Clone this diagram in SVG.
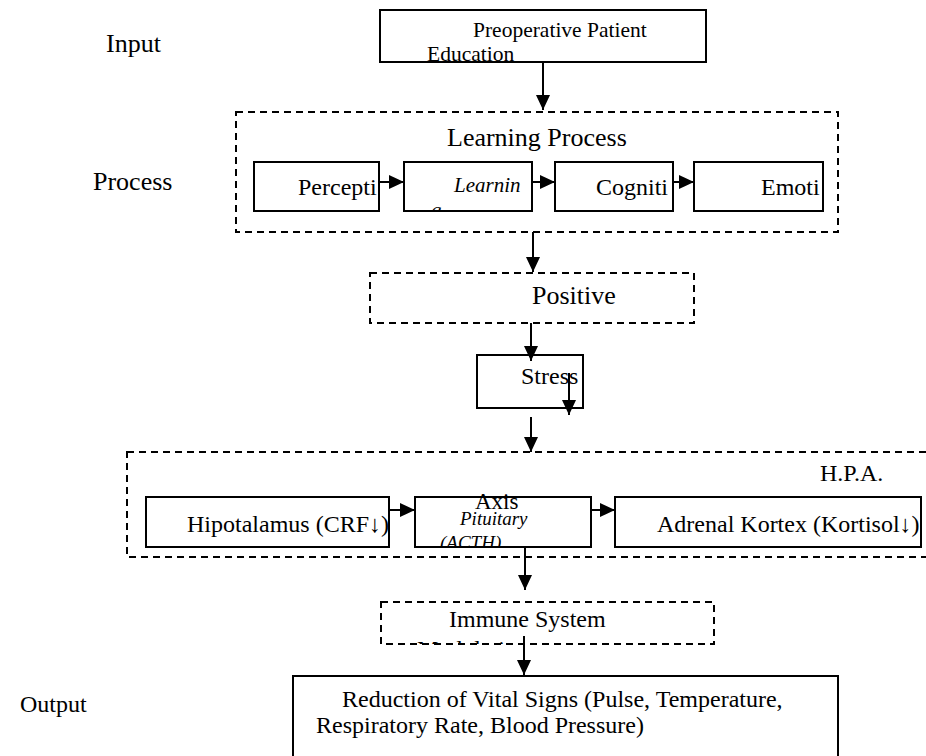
<svg xmlns="http://www.w3.org/2000/svg" width="926" height="756" viewBox="0 0 926 756" font-family="'Liberation Serif', 'Times New Roman', serif">
<defs>
<style>
text{font-family:'Liberation Serif','Times New Roman',serif;fill:#000}
.i{font-style:italic}
.box{fill:#fff;stroke:#000;stroke-width:2}
.dash{fill:none;stroke:#000;stroke-width:2;stroke-dasharray:7 5}
.conn{stroke:#000;stroke-width:2;fill:none}
</style>
<marker id="ah" markerUnits="userSpaceOnUse" markerWidth="16" markerHeight="16" viewBox="0 0 16 16" refX="15" refY="8" orient="auto">
<path d="M0,1 L15,8 L0,15 Z" fill="#000"/>
</marker>
<clipPath id="cLearn"><rect x="404" y="162" width="128" height="49"/></clipPath>
<clipPath id="cPit"><rect x="415" y="497" width="176" height="50"/></clipPath>
<clipPath id="cImm"><rect x="381" y="602" width="333" height="42"/></clipPath>
</defs>
<rect width="926" height="756" fill="#fff"/>

<g id="labels">
<text x="106" y="52" font-size="26">Input</text>
<text x="93" y="190" font-size="26">Process</text>
<text x="20" y="712" font-size="24">Output</text>
</g>

<g id="n-education">
<rect class="box" x="380" y="10" width="326" height="52"/>
<text x="473" y="37" font-size="21.5">Preoperative Patient</text>
<text x="427" y="61" font-size="21.5">Education</text>
</g>

<g id="n-learning">
<rect class="dash" x="236" y="112" width="602" height="120"/>
<text x="447" y="146" font-size="26">Learning Process</text>
</g>
<g id="n-perception">
<rect class="box" x="254" y="162" width="125" height="49"/>
<text x="298" y="195" font-size="24">Percepti</text>
</g>
<g id="n-learnin">
<rect class="box" x="404" y="162" width="128" height="49"/>
<text class="i" x="454" y="192" font-size="21">Learnin</text>
<text class="i" x="431" y="217" font-size="21" clip-path="url(#cLearn)">g</text>
</g>
<g id="n-cognition">
<rect class="box" x="555" y="162" width="118" height="49"/>
<text x="596" y="195" font-size="24">Cogniti</text>
</g>
<g id="n-emotion">
<rect class="box" x="694" y="162" width="129" height="49"/>
<text x="761" y="195" font-size="24">Emoti</text>
</g>

<g id="n-positive">
<rect class="dash" x="370" y="273" width="324" height="50"/>
<text x="532" y="304" font-size="26">Positive</text>
</g>

<g id="n-stress">
<rect class="box" x="477" y="355" width="106" height="53"/>
<text x="521" y="384" font-size="24">Stress</text>
</g>

<g id="n-hpa">
<rect class="dash" x="127" y="452" width="810" height="105"/>
<text x="820" y="481" font-size="24">H.P.A.</text>
</g>
<g id="n-hipotalamus">
<rect class="box" x="146" y="497" width="243" height="50"/>
<text x="187" y="532" font-size="24">Hipotalamus (CRF↓)</text>
</g>
<g id="n-pituitary">
<rect class="box" x="415" y="497" width="176" height="50"/>
<text x="475" y="509" font-size="23">Axis</text>
<text class="i" x="460" y="525" font-size="19">Pituitary</text>
<text class="i" x="440" y="549" font-size="19" clip-path="url(#cPit)">(ACTH)</text>
</g>
<g id="n-adrenal">
<rect class="box" x="615" y="497" width="306" height="50"/>
<text x="657" y="532" font-size="24">Adrenal Kortex (Kortisol↓)</text>
</g>

<g id="n-immune">
<rect class="dash" x="381" y="602" width="333" height="42"/>
<text x="449" y="627" font-size="24">Immune System</text>
<text x="417" y="657" font-size="24" clip-path="url(#cImm)">Modulation</text>
</g>

<g id="n-output">
<rect class="box" x="293" y="676" width="545" height="90"/>
<text x="342" y="707" font-size="24">Reduction of Vital Signs (Pulse, Temperature,</text>
<text x="316" y="733" font-size="24">Respiratory Rate, Blood Pressure)</text>
</g>

<g id="connectors">
<line class="conn" x1="543" y1="62" x2="543" y2="110" marker-end="url(#ah)"/>
<line class="conn" x1="379" y1="182" x2="404" y2="182" marker-end="url(#ah)"/>
<line class="conn" x1="532" y1="182" x2="555" y2="182" marker-end="url(#ah)"/>
<line class="conn" x1="673" y1="182" x2="694" y2="182" marker-end="url(#ah)"/>
<line class="conn" x1="533" y1="232" x2="533" y2="272" marker-end="url(#ah)"/>
<line class="conn" x1="531" y1="323" x2="531" y2="361" marker-end="url(#ah)"/>
<line class="conn" x1="569" y1="373" x2="569" y2="415" marker-end="url(#ah)"/>
<line class="conn" x1="531" y1="417" x2="531" y2="452" marker-end="url(#ah)"/>
<line class="conn" x1="389" y1="510" x2="415" y2="510" marker-end="url(#ah)"/>
<line class="conn" x1="591" y1="510" x2="615" y2="510" marker-end="url(#ah)"/>
<line class="conn" x1="525" y1="547" x2="525" y2="590" marker-end="url(#ah)"/>
<line class="conn" x1="524" y1="636" x2="524" y2="675" marker-end="url(#ah)"/>
</g>
</svg>
